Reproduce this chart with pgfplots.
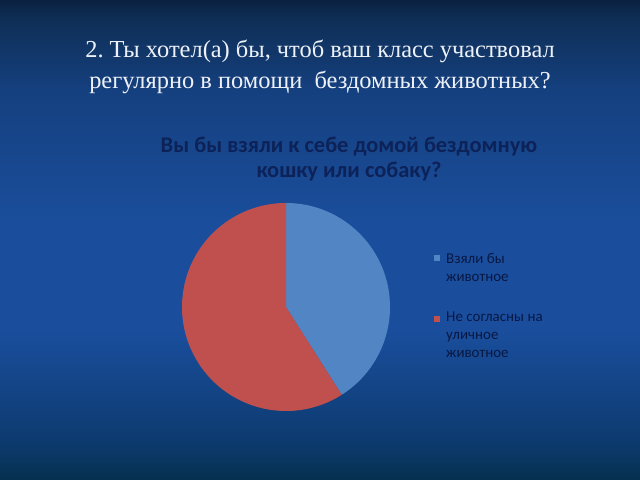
\documentclass[border=0pt]{standalone}
\usepackage{fontspec}
\setmainfont{Liberation Serif}
\newfontfamily\chartfont{Carlito}
\usepackage{pgfplots}
\usepackage{pgfplotstable}
\pgfplotsset{compat=1.18}

\definecolor{bg0}{HTML}{0A2140}
\definecolor{bg1}{HTML}{0E2E55}
\definecolor{bg2}{HTML}{15407F}
\definecolor{bg3}{HTML}{1A4E9D}
\definecolor{bg4}{HTML}{0D3B70}
\definecolor{bg5}{HTML}{05304F}
\definecolor{pieblue}{HTML}{5285C4}
\definecolor{piered}{HTML}{C0504D}
\definecolor{navytext}{HTML}{0C2258}
\definecolor{legtext}{HTML}{081844}
\definecolor{titlewhite}{HTML}{EEF2F8}

% share of each answer, percent
\pgfplotstableread{
share
41
59
}\piedata

\begin{document}
\frenchspacing
\begin{tikzpicture}[x=1bp,y=1bp]
	% slide background
	\shade[top color=bg0,bottom color=bg1] (0,462) rectangle (640,480);
	\shade[top color=bg1,bottom color=bg2] (0,390) rectangle (640,462.5);
	\shade[top color=bg2,bottom color=bg3] (0,250) rectangle (640,390.5);
	\fill[bg3] (0,150) rectangle (640,250.5);
	\shade[top color=bg3,bottom color=bg4] (0,40) rectangle (640,150.5);
	\shade[top color=bg4,bottom color=bg5] (0,0) rectangle (640,40.5);

	\pgfplotstablegetelem{0}{share}\of\piedata
	\pgfmathsetmacro\angA{90-3.6*\pgfplotsretval}

	\begin{axis}[
		at={(0,0)}, anchor=south west,
		scale only axis, width=640bp, height=480bp,
		xmin=0, xmax=640, ymin=0, ymax=480,
		hide axis, clip=false]
		\fill[pieblue] (axis cs:286,173) -- (axis cs:286,277)
			arc[start angle=90, end angle=\angA, radius=104bp] -- cycle;
		\fill[piered] (axis cs:286,173) -- (axis cs:{286+104*cos(\angA)},{173+104*sin(\angA)})
			arc[start angle=\angA, end angle=-270, radius=104bp] -- cycle;

		% anchor=base is the baseline of the last line
		\node[text=titlewhite, font=\fontsize{24.5}{32}\selectfont, align=center, anchor=base]
			at (axis cs:320,391) {2. Ты хотел(а) бы, чтоб ваш класс участвовал\\регулярно в помощи\ \ бездомных животных?};

		\node[text=navytext, font=\chartfont\bfseries\fontsize{22.5}{26}\selectfont, align=center, anchor=base]
			at (axis cs:349,302) {Вы бы взяли к себе домой бездомную\\кошку или собаку?};

		\fill[pieblue] (axis cs:434,219) rectangle (axis cs:440,225);
		\fill[piered] (axis cs:434,158) rectangle (axis cs:440,164);
		\begin{scope}[every node/.style={text=legtext, font=\chartfont\fontsize{15}{18}\selectfont, anchor=base west, inner sep=0pt}]
			\node at (axis cs:446,216) {Взяли бы};
			\node at (axis cs:446,198) {животное};
			\node at (axis cs:446,158) {Не согласны на};
			\node at (axis cs:446,140) {уличное};
			\node at (axis cs:446,122) {животное};
		\end{scope}
	\end{axis}
\end{tikzpicture}
\end{document}
